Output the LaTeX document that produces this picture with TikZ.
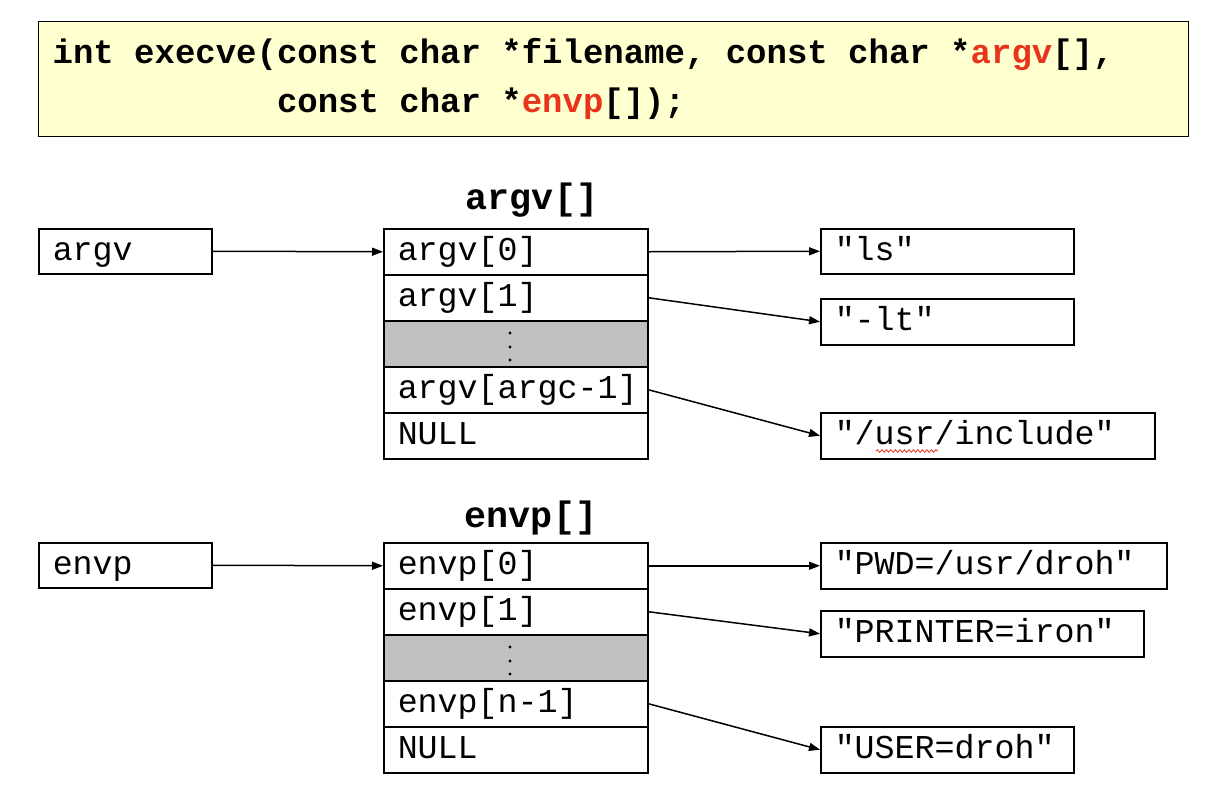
\documentclass[tikz,border=0pt]{standalone}
\usepackage{fontspec}
\setmonofont{Liberation Mono}
\usetikzlibrary{arrows.meta,decorations.pathmorphing}
\definecolor{hdrfill}{RGB}{255,255,208}
\definecolor{kwred}{RGB}{232,52,28}
\definecolor{cellgray}{RGB}{192,192,192}
\newcommand\spc{\hspace*{0.6em}}
\begin{document}
\begin{tikzpicture}[x=1pt,y=-1pt,
  box/.style={draw, line width=1.5pt, inner xsep=14pt, inner ysep=0pt,
    text height=22pt, text depth=4pt, minimum height=46pt, align=left,
    anchor=north west, font=\ttfamily\fontsize{33.3}{40}\selectfont},
  grayrow/.style={box, fill=cellgray},
  hdrbox/.style={draw, line width=1.2pt, fill=hdrfill, inner xsep=14pt, inner ysep=0pt,
    anchor=north west, align=left,
    font=\ttfamily\bfseries\fontsize{34}{49}\selectfont},
  title/.style={anchor=base, font=\ttfamily\bfseries\fontsize{36.7}{44}\selectfont},
  ptr/.style={line width=1.5pt, -{Triangle[length=11pt,width=8pt]}},
  dot/.style={fill=black}
]
\useasboundingbox (0,0) rectangle (1230,806);

% header
\node[hdrbox, text width=1122pt, minimum height=115pt] (hdr) at (38,21)
  {int\spc execve(const\spc char\spc *filename,\spc const\spc char\spc *\textcolor{kwred}{argv}[],\\
   \hspace*{6.6em}const\spc char\spc *\textcolor{kwred}{envp}[]);};

% ---- argv ----
\node[title] (argvtitle) at (532,209) {argv[]};
\node[box, text width=145pt, minimum height=45pt] (argv) at (38,228) {argv};
\node[box, text width=236pt] (a0) at (383,228) {argv[0]};
\node[box, text width=236pt] (a1) at (383,274) {argv[1]};
\node[grayrow, text width=236pt] (ad) at (383,320) {};
\node[box, text width=236pt] (an) at (383,366) {argv[argc-1]};
\node[box, text width=236pt] (anull) at (383,412) {NULL};
\fill[dot] (510,333) circle (1.7pt) (510,347) circle (1.7pt) (510,360) circle (1.7pt);

\node[box, text width=225pt, minimum height=45pt] (ls) at (820,228) {"ls"};
\node[box, text width=225pt] (lt) at (820,298) {"-lt"};
\node[box, text width=306pt] (usrinc) at (820,412) {"/usr/include"};
\draw[kwred, line width=0.8pt, decorate,
  decoration={snake, amplitude=1.3pt, segment length=4.5pt}] (876,451) -- (938,451);

\draw[ptr] (argv.east) -- (a0.west);
\draw[ptr] (a0.east) -- (ls.west);
\draw[ptr] (a1.east) -- (lt.west);
\draw[ptr] (an.east) -- (usrinc.west);

% ---- envp ----
\node[title] (envptitle) at (531,527) {envp[]};
\node[box, text width=145pt, minimum height=45pt] (envp) at (38,542) {envp};
\node[box, text width=236pt] (e0) at (383,542) {envp[0]};
\node[box, text width=236pt] (e1) at (383,588) {envp[1]};
\node[grayrow, text width=236pt] (ed) at (383,634) {};
\node[box, text width=236pt] (en) at (383,680) {envp[n-1]};
\node[box, text width=236pt] (enull) at (383,726) {NULL};
\fill[dot] (510,647) circle (1.7pt) (510,661) circle (1.7pt) (510,674) circle (1.7pt);

\node[box, text width=318pt] (pwd) at (820,542) {"PWD=/usr/droh"};
\node[box, text width=295pt] (printer) at (820,610) {"PRINTER=iron"};
\node[box, text width=225pt] (user) at (820,726) {"USER=droh"};

\draw[ptr] (envp.east) -- (e0.west);
\draw[ptr] (e0.east) -- (pwd.west);
\draw[ptr] (e1.east) -- (printer.west);
\draw[ptr] (en.east) -- (user.west);
\end{tikzpicture}
\end{document}
